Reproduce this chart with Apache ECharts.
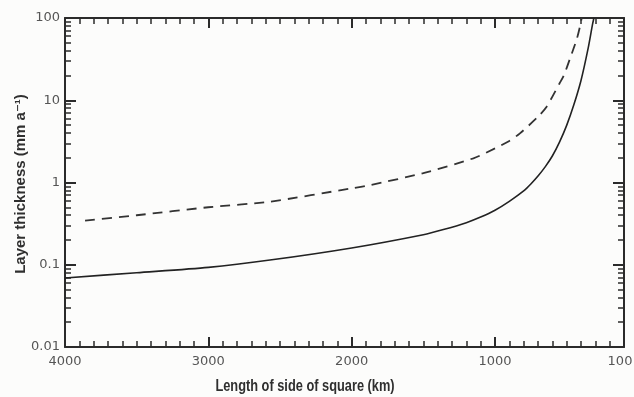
<!DOCTYPE html>
<html>
<head>
<meta charset="utf-8">
<script src="https://cdn.jsdelivr.net/npm/echarts@6/dist/echarts.min.js"></script>
<style>
html,body{margin:0;padding:0;background:#fcfcfb;}
#c{width:634px;height:397px;}
</style>
</head>
<body>
<div id="c"></div>
<script>
// Length of side of square (km)
const solidX = [4000, 3500, 3000, 2570, 2000, 1500, 1360, 1200, 1100, 1000, 900, 800, 750, 700, 650, 600, 550, 500, 450, 400, 350, 320, 310];
// Layer thickness (mm a-1), solid curve
const solidY = [0.069, 0.080, 0.093, 0.114, 0.160, 0.232, 0.268, 0.325, 0.38, 0.46, 0.59, 0.79, 0.96, 1.2, 1.55, 2.1, 3.1, 4.95, 8.8, 17.4, 43, 83, 100];
// dashed curve
const dashX = [3860, 3500, 3000, 2570, 2000, 1872, 1500, 1151, 1000, 900, 826, 700, 640, 550, 520, 477, 430, 410, 395];
const dashY = [0.344, 0.40, 0.50, 0.585, 0.85, 0.93, 1.3, 1.97, 2.6, 3.2, 3.96, 6.3, 8.35, 16, 20, 32, 55, 75, 100];

const xLabels = [4000, 3000, 2000, 1000, 100];
const xMajor = [1000, 2000, 3000, 4000];
const yLabels = [0.01, 0.1, 1, 10, 100];

const xMinor = [];
for (let v = 100; v <= 4000; v += 100) xMinor.push(v);
const yMinorLog = [];
for (let d = -2; d < 2; d++) {
  for (let k = 2; k <= 9; k++) yMinorLog.push(Math.log10(k) + d);
}

const axisColor = '#2b2b2b';
const labelStyle = {color: '#555', fontSize: 13, fontFamily: 'DejaVu Sans'};

function xAx(pos, major, labels) {
  return {
    type: 'value', min: 100, max: 4000, inverse: true, interval: 100, position: pos,
    axisLine: {show: !major, onZero: false, lineStyle: {color: axisColor, width: 2}},
    axisTick: major ? {show: true, inside: true, length: 10, customValues: xMajor, lineStyle: {color: axisColor, width: 2}}
                    : {show: true, inside: true, length: 6, customValues: xMinor, lineStyle: {color: axisColor, width: 1.5}},
    axisLabel: labels ? Object.assign({
      show: true, margin: 8, customValues: xLabels,
      formatter: v => v === 100 ? '{r|100}' : String(v),
      rich: {r: {color: '#555', fontSize: 13, fontFamily: 'DejaVu Sans', padding: [0, 8, 0, 0]}}
    }, labelStyle) : {show: false},
    splitLine: {show: false}
  };
}
function yAxLog(pos, labels) {
  return {
    type: 'log', logBase: 10, min: 0.01, max: 100, position: pos,
    axisLine: {show: true, onZero: false, lineStyle: {color: axisColor, width: 2}},
    axisTick: {show: true, inside: true, length: 11, lineStyle: {color: axisColor, width: 2}},
    axisLabel: labels ? Object.assign({show: true, margin: 5, formatter: v => String(v)}, labelStyle) : {show: false},
    splitLine: {show: false}, minorTick: {show: false}
  };
}
function yAxMinor(pos) {
  return {
    type: 'value', min: -2, max: 2, interval: 0.5, position: pos,
    axisLine: {show: false, onZero: false},
    axisTick: {show: true, inside: true, length: 6, customValues: yMinorLog, lineStyle: {color: axisColor, width: 1.5}},
    axisLabel: {show: false},
    splitLine: {show: false}
  };
}

const chart = echarts.init(document.getElementById('c'));
chart.setOption({
  backgroundColor: '#fcfcfb',
  animation: false,
  grid: {left: 65, right: 10, top: 18, bottom: 50, containLabel: false, outerBoundsMode: 'none'},
  xAxis: [xAx('bottom', false, true), xAx('bottom', true, false), xAx('top', false, false), xAx('top', true, false)],
  yAxis: [yAxLog('left', true), yAxMinor('left'), yAxLog('right', false), yAxMinor('right')],
  graphic: [
    {type: 'text', style: {text: 'Length of side of square (km)', x: 0, y: 0, align: 'center', verticalAlign: 'middle', fill: '#2f2f2f', font: 'bold 16px "Liberation Sans", sans-serif'}, x: 305, y: 387, scaleX: 0.8},
    {type: 'text', style: {text: 'Layer thickness (mm a\u207B\u00B9)', x: 0, y: 0, align: 'center', verticalAlign: 'middle', fill: '#2f2f2f', font: 'bold 15px "Liberation Sans", "DejaVu Sans", sans-serif'}, x: 21, y: 184, rotation: Math.PI / 2}
  ],
  series: [
    {type: 'line', xAxisIndex: 0, yAxisIndex: 0, data: solidX.map((x, i) => [x, solidY[i]]), symbol: 'none', smooth: 0.25, lineStyle: {color: '#222', width: 1.6}},
    {type: 'line', xAxisIndex: 0, yAxisIndex: 0, data: dashX.map((x, i) => [x, dashY[i]]), symbol: 'none', smooth: 0.25, lineStyle: {color: '#333', width: 1.8, type: [10, 7]}}
  ]
});
</script>
</body>
</html>
